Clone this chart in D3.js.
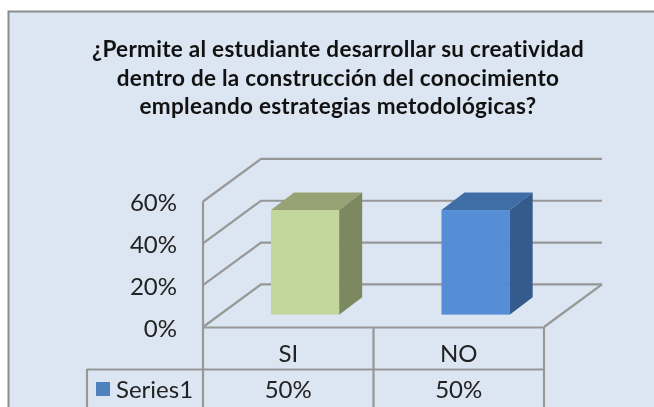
<!DOCTYPE html>
<html>
<head>
<meta charset="utf-8">
<title>Creatividad</title>
<style>
html,body{margin:0;padding:0;background:#fff;overflow:hidden;}
svg{display:block;filter:blur(0.5px);}
text{font-family:Lato,"Open Sans",sans-serif;fill:#222;}
</style>
<script src="https://cdnjs.cloudflare.com/ajax/libs/d3/7.8.5/d3.min.js"></script>
</head>
<body>
<svg id="chart" width="654" height="407"></svg>
<script>
var titleLines = ["¿Permite al estudiante desarrollar su creatividad",
                  "dentro de la construcción del conocimiento",
                  "empleando estrategias metodológicas?"];
var categories = ["SI","NO"];
var values = [0.5,0.5];
var yTicks = [0,0.2,0.4,0.6];
var seriesName = "Series1";
var frontColors = ["#c3d69b","#558ed5"];
var topColors = ["#97a375","#3f6da5"];
var sideColors = ["#7c885f","#355b8c"];

var svg = d3.select("#chart");

// frame
svg.append("rect").attr("x",8.5).attr("y",11.5).attr("width",660).attr("height",410)
    .attr("fill","#dce6f2").attr("stroke","#8c8c8c").attr("stroke-width",2);

// title
svg.append("g").selectAll("text").data(titleLines).enter().append("text")
    .attr("x",338).attr("y",function(d,i){return 57+i*28.7})
    .attr("text-anchor","middle").attr("font-size",22.5).attr("font-weight",700)
    .attr("letter-spacing",0.28).style("fill","#111")
    .text(function(d){return d});

var x = d3.scaleBand().domain(categories).range([203,544]).paddingInner(0.6).paddingOuter(0.3);
var cell = d3.scaleBand().domain(categories).range([203,544]);
var y = d3.scaleLinear().domain([0,0.6]).range([327,201.5]);
var depthX = 58, depthY = -42.6;
var grid = "#979797";

// walls + gridlines
var g = svg.append("g").attr("fill","none").attr("stroke",grid).attr("stroke-width",2.2);
yTicks.forEach(function(t){
    g.append("path").attr("d",d3.line()([[203,y(t)],[203+depthX,y(t)+depthY],[544+depthX,y(t)+depthY]]));
});
g.append("path").attr("d",d3.line()([[203,y(0)],[203,y(0.6)]]));
g.append("path").attr("d",d3.line()([[544,y(0)],[544+depthX,y(0)+depthY]]));

// bars
var bx = 0.29*depthX, by = 0.29*depthY, bdx = 23, bdy = -17.5;
var bars = svg.append("g").selectAll("g").data(categories).enter().append("g");
bars.each(function(c,i){
    var b = d3.select(this);
    var l = x(c)+bx, r = l+x.bandwidth(), t = y(values[i])+by, f = y(0)+by;
    b.append("rect").attr("x",l).attr("y",t).attr("width",r-l).attr("height",f-t).attr("fill",frontColors[i]);
    b.append("path").attr("fill",topColors[i])
        .attr("d",d3.line()([[l,t],[l+bdx,t+bdy],[r+bdx,t+bdy],[r,t]])+"Z");
    b.append("path").attr("fill",sideColors[i])
        .attr("d",d3.line()([[r,t],[r+bdx,t+bdy],[r+bdx,f+bdy],[r,f]])+"Z");
});

// y labels
svg.append("g").selectAll("text").data(yTicks).enter().append("text")
    .attr("x",177).attr("y",function(d){return y(d)+9.5})
    .attr("text-anchor","end").attr("font-size",24)
    .text(d3.format(".0%"));

// data table
var t = svg.append("g").attr("fill","none").attr("stroke",grid).attr("stroke-width",2.2);
t.append("path").attr("d",d3.line()([[203,327.5],[544,327.5]]));
t.append("path").attr("d",d3.line()([[87,369.5],[544,369.5]]));
t.append("path").attr("d",d3.line()([[87,369],[87,407]]));
[203,373.5,544].forEach(function(p){
    t.append("path").attr("d",d3.line()([[p,327],[p,407]]));
});
svg.append("g").selectAll("text").data(categories).enter().append("text")
    .attr("x",function(d){return cell(d)+cell.bandwidth()/2}).attr("y",362)
    .attr("text-anchor","middle").attr("font-size",24).text(function(d){return d});
svg.append("g").selectAll("text").data(values).enter().append("text")
    .attr("x",function(d,i){return cell(categories[i])+cell.bandwidth()/2}).attr("y",397.5)
    .attr("text-anchor","middle").attr("font-size",24).text(d3.format(".0%"));

// legend key
svg.append("rect").attr("x",96).attr("y",382).attr("width",14).attr("height",14).attr("fill","#4f81bd");
svg.append("text").attr("x",116).attr("y",397.5).attr("font-size",24).text(seriesName);
</script>
</body>
</html>
